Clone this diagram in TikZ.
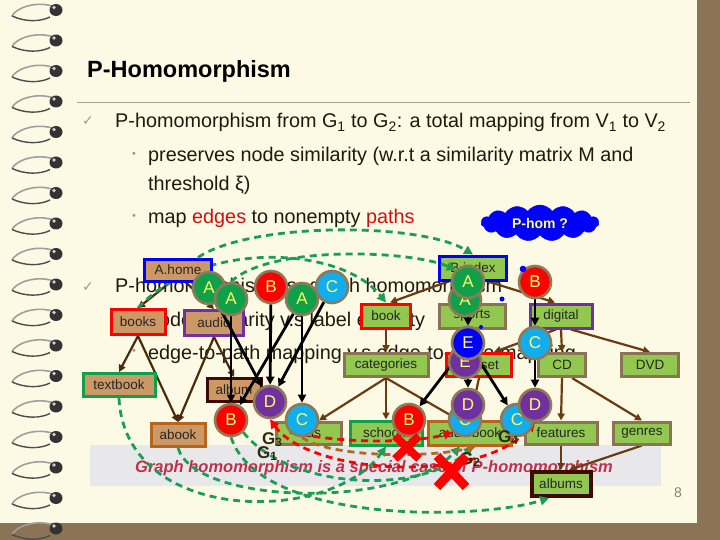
\documentclass[tikz,border=0pt]{standalone}
\usepackage{fontspec}
\setmainfont{Liberation Sans}
\newfontfamily\djv{DejaVu Sans}
\usetikzlibrary{arrows.meta,shapes.symbols}
\pgfdeclarelayer{bgl}\pgfdeclarelayer{edl}\pgfdeclarelayer{mdl}\pgfdeclarelayer{frl}
\pgfsetlayers{bgl,edl,main,mdl,frl}
\definecolor{cream}{HTML}{FCFAE4}
\definecolor{brownbar}{HTML}{8B7355}
\definecolor{tanfill}{HTML}{CC9966}
\definecolor{grnfill}{HTML}{92C850}
\definecolor{ringc}{HTML}{8F7A58}
\definecolor{cgreen}{HTML}{10A04A}
\definecolor{cred}{HTML}{FF0000}
\definecolor{ccyan}{HTML}{12ADEC}
\definecolor{cpurple}{HTML}{7030A0}
\definecolor{cblue}{HTML}{0000FF}
\definecolor{letter}{HTML}{FFFF66}
\definecolor{dashgreen}{HTML}{1A9E55}
\definecolor{edgebrown}{HTML}{6B3A10}
\definecolor{gonedge}{HTML}{4A2A0A}
\definecolor{darkbrown}{HTML}{3D0A00}
\definecolor{orbrown}{HTML}{B5651D}
\definecolor{boxbrown}{HTML}{8B7355}
\definecolor{bandgray}{HTML}{E8E8EA}
\definecolor{bandtext}{HTML}{C0304C}
\definecolor{textc}{HTML}{1E1A0F}
\definecolor{checkc}{HTML}{A89878}
\definecolor{linec}{HTML}{B0A080}
\definecolor{glabc}{HTML}{2E2A10}
\definecolor{textred}{HTML}{D01010}
\definecolor{dashbrown}{HTML}{B06A20}
\tikzset{
 bx/.style={draw, line width=3pt, inner sep=0pt, font=\fontsize{13.5}{14}\selectfont, text=black!85},
 ga/.style={bx, fill=tanfill},
 gb/.style={bx, fill=grnfill},
 circ/.style={circle, draw=ringc, line width=2.6pt, minimum size=32pt, inner sep=0pt, text=letter, font=\fontsize{17}{17}\selectfont},
 cgn/.style={circ, fill=cgreen}, crd/.style={circ, fill=cred}, ccy/.style={circ, fill=ccyan},
 cpu/.style={circ, fill=cpurple}, cbl/.style={circ, fill=cblue},
 bedge/.style={draw=edgebrown, line width=2.2pt, -{Triangle[length=7pt,width=7pt]}},
 aedge/.style={draw=gonedge, line width=2.2pt, -{Triangle[length=7pt,width=7pt]}},
 blk/.style={draw=black, line width=2.8pt, -{Triangle[length=8pt,width=8pt]}},
 gdash/.style={draw=dashgreen, line width=2.8pt, dash pattern=on 7pt off 5pt, -{Triangle[length=9pt,width=9pt]}},
 rdash/.style={draw=cred, line width=2.8pt, dash pattern=on 7pt off 5pt, -{Triangle[length=9pt,width=9pt]}},
 bdash/.style={draw=dashbrown, line width=2.8pt, dash pattern=on 7pt off 5pt, -{Triangle[length=9pt,width=9pt]}},
 txt/.style={anchor=base west, inner sep=0pt, font=\fontsize{19.8}{24}\selectfont, text=textc},
 bul/.style={inner sep=0pt, text=checkc, font=\fontsize{11}{11}\selectfont},
 chk/.style={inner sep=0pt, text=checkc, font=\djv\fontsize{14}{14}\selectfont},
 glab/.style={anchor=base west, inner sep=0pt, text=glabc, font=\bfseries\fontsize{17}{17}\selectfont},
}
\begin{document}
\begin{tikzpicture}[x=1pt,y=-1pt]
\useasboundingbox (0,0) rectangle (720,540);
\begin{pgfonlayer}{bgl}
\fill[cream] (0,0) rectangle (720,540);
\fill[brownbar] (697,0) rectangle (720,540);
\fill[brownbar] (0,523) rectangle (720,540);
\foreach \k in {0,...,17}{
  \pgfmathsetmacro\yy{10+30.5*\k}
  \draw[gray!75, line width=1.6pt] (52,\yy-4) .. controls (35,\yy-9) and (16,\yy-2) .. (12,\yy+6);
  \draw[black!70, line width=1.4pt] (12,\yy+6) .. controls (25,\yy+12) and (40,\yy+12) .. (50,\yy+7);
  \fill[black!80] (56,\yy) ellipse (6.5pt and 6pt);
  \fill[gray!40] (54,\yy-2.5) circle (1.8pt);
}
\draw[linec, line width=0.8pt] (77,102) -- (690,102);
\node[anchor=base west, inner sep=0pt, text=black, font=\bfseries\fontsize{23.5}{24}\selectfont] (title) at (87,78) {P-Homomorphism};
\node[chk] (chk1) at (88,121) {✓};
\node[txt] (l1) at (115,128) {P-homomorphism from G\textsubscript{1} to G\textsubscript{2}: a total mapping from V\textsubscript{1} to V\textsubscript{2}};
\node[bul] (b1d) at (134,155) {•};
\node[txt] (l2) at (148,162) {preserves node similarity (w.r.t a similarity matrix M and};
\node[txt] (l3) at (148,191) {threshold ξ)};
\node[bul] (b2d) at (134,217) {•};
\node[txt] (l4) at (148,224) {map {\color{textred}edges} to nonempty {\color{textred}paths}};
\node[chk] (chk2) at (88,287) {✓};
\node[txt] (l5) at (115,292) {P-homomorphism vs. graph homomorphism};
\node[bul] (b3d) at (134,319) {•};
\node[txt] (l6) at (148,326) {node similarity v.s label equality};
\node[bul] (b4d) at (134,352) {•};
\node[txt] (l7) at (148,359) {edge-to-path mapping v.s edge-to-edge mapping};
\fill[bandgray] (90,445) rectangle (661,486);
\node[anchor=base west, inner sep=0pt, text=bandtext, font=\bfseries\itshape\fontsize{16.5}{17}\selectfont] (band) at (135,472) {Graph homomorphism is a special case of P-homomorphism};
\node[inner sep=0pt, text=gray!80!brown, font=\fontsize{14}{14}\selectfont] (pnum) at (678,493) {8};
\end{pgfonlayer}

% boxes G1
\node[ga, draw=cblue, minimum width=67pt, minimum height=22pt] (ahome) at (178,270) {A.home};
\node[ga, draw=cred, minimum width=54pt, minimum height=25pt] (books) at (138,322) {books};
\node[ga, draw=cpurple, minimum width=59pt, minimum height=25pt] (audio) at (214,323) {audio};
\node[ga, draw=cgreen, minimum width=72pt, minimum height=23pt] (textbook) at (119,385) {textbook};
\node[ga, draw=darkbrown, minimum width=54pt, minimum height=23pt] (album) at (234,390) {album};
\node[ga, draw=orbrown, minimum width=54pt, minimum height=23pt] (abook) at (178,435) {abook};
% boxes G2
\node[gb, draw=cblue, minimum width=67pt, minimum height=24pt] (bindex) at (473,268) {B.index};
\node[gb, draw=cred, minimum width=49pt, minimum height=24pt] (book) at (386,316) {book};
\node[gb, draw=boxbrown, minimum width=66pt, minimum height=24pt] (sports) at (472,316) {sports};
\node[gb, draw=cpurple, minimum width=62pt, minimum height=24pt] (digital) at (561,316) {digital};
\node[gb, draw=boxbrown, minimum width=84pt, minimum height=23pt] (categories) at (386,365) {categories};
\node[gb, draw=cred, minimum width=65pt, minimum height=23pt] (boxset) at (479,365) {boxset};
\node[gb, draw=boxbrown, minimum width=47pt, minimum height=23pt] (cd) at (562,365) {CD};
\node[gb, draw=boxbrown, minimum width=57pt, minimum height=23pt] (dvd) at (650,365) {DVD};
\node[gb, draw=boxbrown, minimum width=65pt, minimum height=22pt] (kids) at (309,433) {kids};
\node[gb, draw=cgreen, minimum width=72pt, minimum height=24pt] (schools) at (386,433) {schools};
\node[gb, draw=orbrown, minimum width=83pt, minimum height=24pt] (audiobook) at (470,433) {audiobook};
\node[gb, draw=boxbrown, minimum width=72pt, minimum height=22pt] (features) at (561,433) {features};
\node[gb, draw=boxbrown, minimum width=57pt, minimum height=22pt] (genres) at (642,433) {genres};
\node[gb, draw=darkbrown, line width=4pt, minimum width=59pt, minimum height=24pt] (albums) at (561,484) {albums};
\node[cloud, cloud puffs=15, cloud puff arc=110, aspect=3.2, fill=cblue, draw=cblue, minimum width=118pt, minimum height=36pt, inner sep=2pt, text=letter, font=\bfseries\fontsize{14}{14}\selectfont] (phom) at (540,223) {P-hom ?};

% circles
\begin{pgfonlayer}{frl}
\node[cgn] (a1) at (209,288) {A};
\node[cgn] (a2) at (231,299) {A};
\node[crd] (b0) at (271,287) {B};
\node[cgn] (a3) at (302,299) {A};
\node[ccy] (c0) at (332,287) {C};
\node[crd] (b1) at (231,420) {B};
\node[cpu] (d) at (270,402) {D};
\node[ccy] (c1) at (302,420) {C};
\node[cgn] (ra2) at (465,300) {A};
\node[cgn] (ra) at (468,282) {A};
\node[crd] (rb) at (535,282) {B};
\node[cpu] (re2) at (465,362) {E};
\node[cbl] (re) at (468,343) {E};
\node[ccy] (rc) at (535,343) {C};
\node[crd] (rbb) at (409,420) {B};
\node[ccy] (rd1b) at (465,420) {C};
\node[cpu] (rd1) at (468,405) {D};
\node[ccy] (rc2) at (517,420) {C};
\node[cpu] (rd2) at (535,405) {D};
\fill[cblue] (523,269) circle (3.3pt);
\fill[cblue] (502,299) circle (2.5pt);
\fill[cblue] (481,327) circle (2pt);
\node[glab] (g3) at (262,444) {G\textsubscript{3}};
\node[glab] (g1) at (257,458) {G\textsubscript{1}};
\node[glab] (g4) at (498,442) {G\textsubscript{4}};
\node[glab] (g2) at (460,464) {G\textsubscript{2}};
\draw[cred, line width=8pt] (395,436) -- (419,459) (419,436) -- (395,459);
\draw[cred, line width=9pt] (437,456) -- (466,487) (466,456) -- (437,487);
\end{pgfonlayer}

% edges
\begin{pgfonlayer}{edl}
\draw[aedge] ([xshift=-8pt]ahome.south) -- (books.north);
\draw[aedge] ([xshift=8pt]ahome.south) -- (audio.north);
\draw[aedge] (books.south) -- (textbook.north);
\draw[aedge] (books.south) -- (abook.north);
\draw[aedge] (audio.south) -- (abook.north);
\draw[aedge] (audio.south) -- (album.north);
\draw[bedge] ([xshift=-25pt]bindex.south) -- ([xshift=4pt]book.north);
\draw[bedge] (bindex.south) -- (sports.north);
\draw[bedge] ([xshift=15pt]bindex.south) -- ([xshift=-6pt]digital.north);
\draw[bedge] (book.south) -- (categories.north);
\draw[bedge] (categories.south) -- ([xshift=10pt]kids.north);
\draw[bedge] (categories.south) -- (schools.north);
\draw[bedge] (categories.south) -- ([xshift=-12pt]audiobook.north);
\draw[bedge] (digital.south) -- (cd.north);
\draw[bedge] ([xshift=10pt]digital.south) -- (dvd.north);
\draw[bedge] ([xshift=-5pt]digital.south) -- ([xshift=15pt]boxset.north);
\draw[bedge] (cd.south) -- (features.north);
\draw[bedge] ([xshift=10pt]cd.south) -- (genres.north);
\draw[bedge] (features.south) -- (albums.north);
\draw[bedge] (genres.south) -- ([xshift=8pt]albums.north);
\draw[bedge] (boxset.south) -- (audiobook.north);
\draw[gdash] (books.north) .. controls (200,240) and (340,245) .. (book.north);
\end{pgfonlayer}

\begin{pgfonlayer}{mdl}
\draw[gdash] ([xshift=20pt]ahome.north) .. controls (250,222) and (420,222) .. (bindex.north);
\draw[gdash] (a2.north) .. controls (270,245) and (410,250) .. (ra.north west);
\draw[gdash] (textbook.south) .. controls (125,525) and (330,525) .. (schools.south);
\draw[gdash] (abook.south) .. controls (195,505) and (400,510) .. ([xshift=-10pt]audiobook.south);
\draw[gdash] (b1.south) .. controls (260,525) and (480,520) .. ([xshift=-12pt]albums.south);
\draw[gdash] (b1.south east) .. controls (290,490) and (420,495) .. ([xshift=3pt]audiobook.south);
\draw[rdash, {Triangle[length=9pt,width=9pt]}-{Triangle[length=9pt,width=9pt]}] (d.south) .. controls (310,475) and (480,485) .. (rd2.south);
\draw[rdash] (c1.south west) .. controls (350,445) and (420,442) .. (rd1b.south west);
\draw[bdash] (c1.south) .. controls (330,458) and (430,458) .. ([xshift=6pt]audiobook.south);
\draw[blk] (a1) -- (d);
\draw[blk] (a2) -- (b1);
\draw[blk] (b0) -- (d);
\draw[blk] (a3) -- (b1);
\draw[blk] (a3) -- (c1);
\draw[blk] (c0) -- (d);
\draw[blk] (ra) -- (re);
\draw[blk] (rb) -- (rc);
\draw[blk] (re) -- (rd1);
\draw[blk] (re) -- (rc2);
\draw[blk] (re) -- (rbb);
\draw[blk] (rc) -- (rd2);
\end{pgfonlayer}
\end{tikzpicture}
\end{document}
